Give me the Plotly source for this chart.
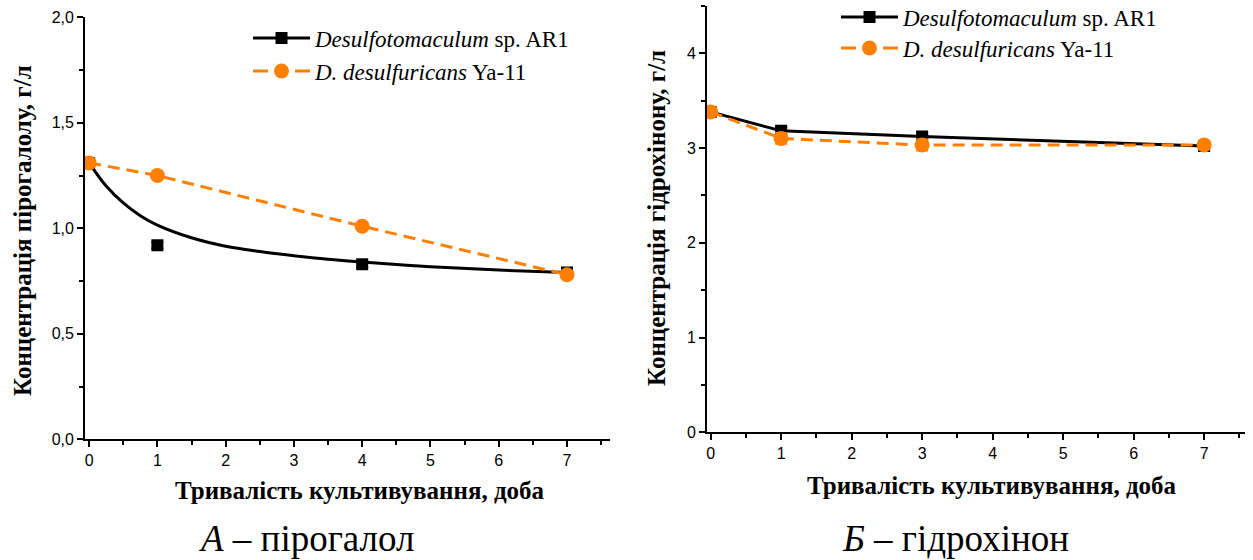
import plotly.graph_objects as go

# ---------- data ----------
# Panel A – pyrogallol
days_a = [0, 1, 4, 7]
desulfo_a = [1.31, 0.92, 0.83, 0.79]
desulfo_a_err = [0.015, 0.015, 0.015, 0.015]
ddes_a = [1.31, 1.25, 1.01, 0.78]
ddes_a_err = [0.015, 0.012, 0.015, 0.015]
# fitted curve for Desulfotomaculum
fit_x_a = [0, 0.25, 0.5, 0.75, 1, 1.5, 2, 2.5, 3, 3.5, 4, 5, 6, 7]
fit_y_a = [1.31, 1.20, 1.12, 1.06, 1.015, 0.955, 0.915, 0.89, 0.87, 0.853, 0.84, 0.818, 0.802, 0.79]

# Panel B – hydroquinone
days_b = [0, 1, 3, 7]
desulfo_b = [3.38, 3.18, 3.12, 3.02]
desulfo_b_err = [0.04, 0.04, 0.03, 0.04]
ddes_b = [3.38, 3.10, 3.03, 3.03]
ddes_b_err = [0.04, 0.06, 0.06, 0.04]

ytick_a_vals = [0, 0.5, 1.0, 1.5, 2.0]
ytick_a_text = ["0,0", "0,5", "1,0", "1,5", "2,0"]
ytick_b_vals = [0, 1, 2, 3, 4]
ytick_b_text = ["0", "1", "2", "3", "4"]
xtick_vals = [0, 1, 2, 3, 4, 5, 6, 7]

name1 = "<i>Desulfotomaculum</i> sp. AR1"
name2 = "<i>D. desulfuricans</i> Ya-11"
xtitle = "Тривалість культивування, доба"
ytitle_a = "Концентрація пірогалолу, г/л"
ytitle_b = "Концентрація гідрохінону, г/л"
cap_a = "<i>А</i> – пірогалол"
cap_b = "<i>Б</i> – гідрохінон"

BLACK = "#000000"
ORANGE = "#FF8000"
W, H = 1253, 560
SERIF = "Liberation Serif"
SANS = "Liberation Sans"

fig = go.Figure()

# ---- panel A ----
fig.add_trace(go.Scatter(x=fit_x_a, y=fit_y_a, mode="lines",
                         line=dict(color=BLACK, width=3, shape="spline", smoothing=1.0),
                         showlegend=False, xaxis="x", yaxis="y", hoverinfo="skip"))
fig.add_trace(go.Scatter(x=days_a, y=desulfo_a, mode="markers",
                         marker=dict(symbol="square", size=12, color=BLACK),
                         error_y=dict(type="data", array=desulfo_a_err, color=BLACK, thickness=1.5, width=6),
                         showlegend=False, xaxis="x", yaxis="y"))
fig.add_trace(go.Scatter(x=days_a, y=ddes_a, mode="lines+markers",
                         line=dict(color=ORANGE, width=3, dash="12px,7px"),
                         marker=dict(symbol="circle", size=15, color=ORANGE),
                         error_y=dict(type="data", array=ddes_a_err, color=ORANGE, thickness=1.5, width=6),
                         showlegend=False, xaxis="x", yaxis="y"))

# ---- panel B ----
fig.add_trace(go.Scatter(x=days_b, y=desulfo_b, mode="lines+markers",
                         line=dict(color=BLACK, width=3),
                         marker=dict(symbol="square", size=12, color=BLACK),
                         error_y=dict(type="data", array=desulfo_b_err, color=BLACK, thickness=1.5, width=6),
                         showlegend=False, xaxis="x2", yaxis="y2"))
fig.add_trace(go.Scatter(x=days_b, y=ddes_b, mode="lines+markers",
                         line=dict(color=ORANGE, width=3, dash="12px,7px"),
                         marker=dict(symbol="circle", size=15, color=ORANGE),
                         error_y=dict(type="data", array=ddes_b_err, color=ORANGE, thickness=1.5, width=6),
                         showlegend=False, xaxis="x2", yaxis="y2"))

# ---- legend-only entries ----
leg_specs = [
    (name1, BLACK, "square", 12, "solid", "legend"),
    (name2, ORANGE, "circle", 15, "15px,27px", "legend2"),
    (name1, BLACK, "square", 12, "solid", "legend3"),
    (name2, ORANGE, "circle", 15, "15px,27px", "legend4"),
]
for nm, col, sym, sz, dash, lg in leg_specs:
    fig.add_trace(go.Scatter(x=[None], y=[None], mode="lines+markers", name=nm,
                             line=dict(color=col, width=3, dash=dash),
                             marker=dict(symbol=sym, size=sz, color=col),
                             legend=lg, xaxis="x", yaxis="y"))

def px_x(p):
    return p / W

def px_y(p):
    return 1 - p / H

leg_font = dict(family=SERIF, size=23, color="black")
def leg(xp, yp):
    return dict(x=px_x(xp), y=px_y(yp), xanchor="left", yanchor="middle",
                font=leg_font, itemwidth=57, bgcolor="rgba(0,0,0,0)", borderwidth=0,
                tracegroupgap=0, itemsizing="trace")

tick_font = dict(family=SANS, size=16, color="black")
axis_common = dict(showline=True, linecolor="black", linewidth=1.8, ticks="outside", ticklen=6,
                   tickwidth=1.5, tickcolor="black", showgrid=False, zeroline=False,
                   tickfont=tick_font, mirror=False)

fig.update_layout(
    width=W, height=H, margin=dict(l=0, r=0, t=0, b=0, autoexpand=False),
    paper_bgcolor="white", plot_bgcolor="white",
    xaxis=dict(domain=[px_x(85), px_x(610)], range=[-0.06, 7.63], anchor="y",
               tickvals=xtick_vals, minor=dict(dtick=0.5, tick0=0, ticks="outside", ticklen=4,
                                               tickwidth=1.5, tickcolor="black"), **axis_common),
    yaxis=dict(domain=[px_y(439.3), px_y(17.3)], range=[0, 2.0], anchor="x",
               tickvals=ytick_a_vals, ticktext=ytick_a_text,
               minor=dict(dtick=0.25, tick0=0, ticks="outside", ticklen=4, tickwidth=1.5, tickcolor="black"),
               **axis_common),
    xaxis2=dict(domain=[px_x(707), px_x(1245)], range=[-0.052, 7.58], anchor="y2",
                tickvals=xtick_vals, minor=dict(dtick=0.5, tick0=0, ticks="outside", ticklen=4,
                                                tickwidth=1.5, tickcolor="black"), **axis_common),
    yaxis2=dict(domain=[px_y(432.3), px_y(5.7)], range=[0, 4.5], anchor="x2",
                tickvals=ytick_b_vals, ticktext=ytick_b_text,
                minor=dict(dtick=0.5, tick0=0, ticks="outside", ticklen=4, tickwidth=1.5, tickcolor="black"),
                **axis_common),
    legend=leg(248, 38),
    legend2=leg(248, 71),
    legend3=leg(836, 17),
    legend4=leg(836, 48),
    showlegend=True,
)

title_font = dict(family=SERIF, size=25, color="black")
cap_font = dict(family=SERIF, size=37, color="black")
annots = [
    dict(text="<b>" + xtitle + "</b>", x=px_x(360), y=px_y(490), font=title_font, textangle=0),
    dict(text="<b>" + xtitle + "</b>", x=px_x(992), y=px_y(485), font=title_font, textangle=0),
    dict(text="<b>" + ytitle_a + "</b>", x=px_x(22), y=px_y(231), font=title_font, textangle=-90),
    dict(text="<b>" + ytitle_b + "</b>", x=px_x(657), y=px_y(218), font=title_font, textangle=-90),
    dict(text=cap_a, x=px_x(306), y=px_y(538), font=cap_font, textangle=0),
    dict(text=cap_b, x=px_x(955), y=px_y(538), font=cap_font, textangle=0),
]
for a in annots:
    fig.add_annotation(xref="paper", yref="paper", xanchor="center", yanchor="middle",
                       showarrow=False, **a)

fig.write_html("out.html")
